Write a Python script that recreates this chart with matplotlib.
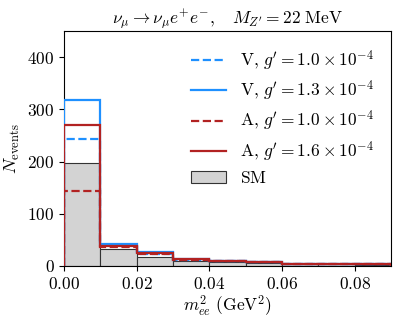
import matplotlib
matplotlib.use("Agg")
import matplotlib.pyplot as plt
import numpy as np
from matplotlib.ticker import FuncFormatter
from matplotlib.lines import Line2D

plt.rcParams['mathtext.fontset'] = 'cm'
plt.rcParams['font.family'] = 'serif'
plt.rcParams['font.serif'] = ['DejaVu Serif']

# bin edges in m_ee^2 (GeV^2)
edges = [0.00, 0.01, 0.02, 0.03, 0.04, 0.05, 0.06, 0.07, 0.08, 0.09]

# event counts per bin
sm = [197, 33, 17, 10, 8, 6, 3, 3, 2]
v_10 = [243, 40, 23, 12, 9, 7, 4, 4, 3]
v_13 = [318, 43, 26, 14, 10, 8, 4, 4, 3]
a_10 = [144, 37, 22, 12, 9, 7, 4, 4, 3]
a_16 = [271, 38, 24, 13, 10, 8, 4, 4, 3]

labels = [r'$\mathrm{V},\,g^{\prime} = 1.0\times10^{-4}$',
          r'$\mathrm{V},\,g^{\prime} = 1.3\times10^{-4}$',
          r'$\mathrm{A},\,g^{\prime} = 1.0\times10^{-4}$',
          r'$\mathrm{A},\,g^{\prime} = 1.6\times10^{-4}$',
          r'$\mathrm{SM}$']

blue = '#1E90FF'
red = '#B22222'

fig = plt.figure(figsize=(4.06, 3.17), dpi=100)
ax = fig.add_axes([0.158, 0.161, 0.805, 0.741])

edges = np.array(edges)
sm_bars = ax.bar(edges[:-1], sm, width=np.diff(edges), align='edge',
                 color='lightgray', edgecolor='#333333', linewidth=0.8, zorder=1)
ax.stairs(v_10, edges, color=blue, linestyle='--', linewidth=1.6, zorder=2)
ax.stairs(v_13, edges, color=blue, linestyle='-', linewidth=1.6, zorder=3)
ax.stairs(a_10, edges, color=red, linestyle='--', linewidth=1.6, zorder=4)
ax.stairs(a_16, edges, color=red, linestyle='-', linewidth=1.6, zorder=5)

ax.set_xlim(0, 0.09)
ax.set_ylim(0, 450)
ax.set_xticks([0.0, 0.02, 0.04, 0.06, 0.08])
ax.set_yticks([0, 100, 200, 300, 400])
ax.xaxis.set_major_formatter(FuncFormatter(lambda v, p: r'$%.2f$' % v))
ax.yaxis.set_major_formatter(FuncFormatter(lambda v, p: r'$%d$' % v))
ax.tick_params(labelsize=12.5)

ax.set_xlabel(r'$m_{ee}^2\ (\mathrm{GeV}^2)$', fontsize=12.5, labelpad=0)
ax.set_ylabel(r'$N_{\mathrm{events}}$', fontsize=13)
ax.set_title(r'$\nu_\mu \to \nu_\mu e^{+} e^{-},\quad M_{Z^{\prime}} = 22\ \mathrm{MeV}$',
             fontsize=12.5, pad=6)

leg_handles = [Line2D([], [], color=blue, ls='--', lw=1.6),
               Line2D([], [], color=blue, ls='-', lw=1.6),
               Line2D([], [], color=red, ls='--', lw=1.6),
               Line2D([], [], color=red, ls='-', lw=1.6),
               sm_bars.patches[0]]
ax.legend(leg_handles, labels, loc='upper right', frameon=False, fontsize=12.5,
          handlelength=2.0, borderaxespad=0.6, labelspacing=0.35, handletextpad=0.8)

fig.savefig('out.png', dpi=100)
